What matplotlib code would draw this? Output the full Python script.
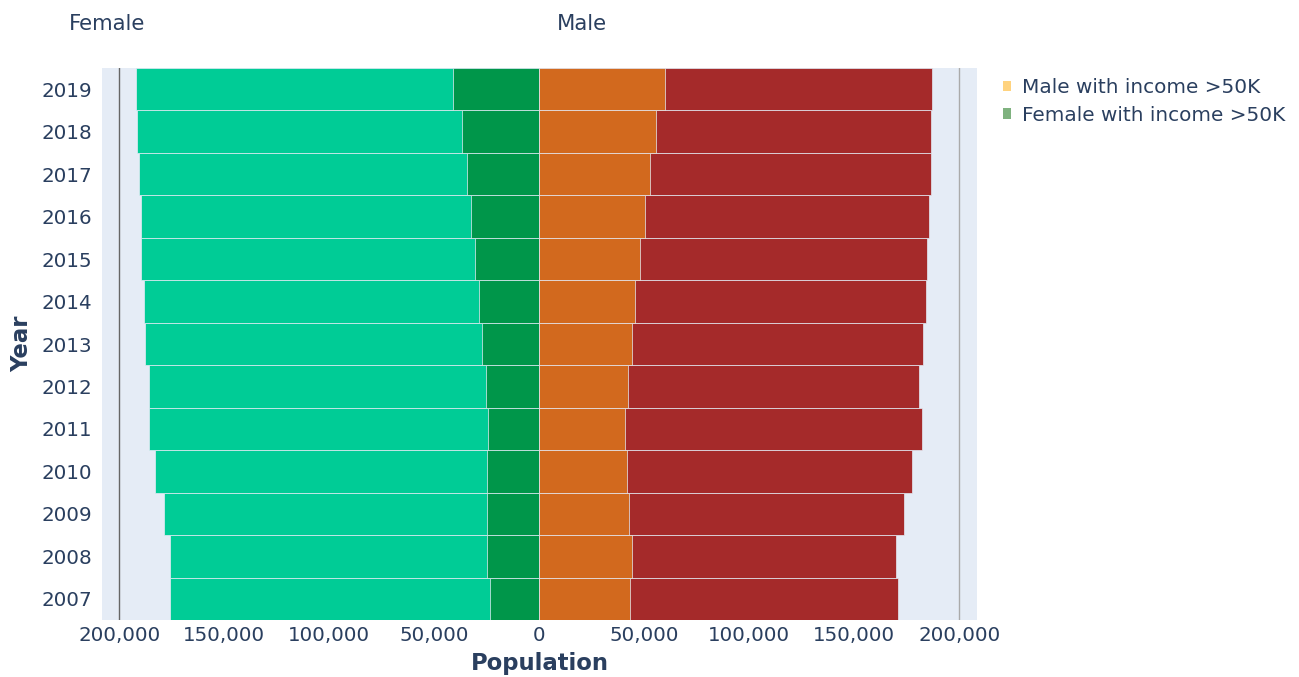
import matplotlib
matplotlib.use("Agg")
import matplotlib.pyplot as plt
from matplotlib.patches import Patch
from matplotlib.ticker import FuncFormatter

years = [2007, 2008, 2009, 2010, 2011, 2012, 2013, 2014, 2015, 2016, 2017, 2018, 2019]
female_total = [175700, 175700, 178600, 182900, 185700, 185700, 187600, 188100, 189500, 189700, 190500, 191400, 191900]
female_income = [23600, 25000, 25000, 25000, 24600, 25500, 27400, 28900, 30800, 32700, 34600, 36900, 41200]
male_total = [171100, 169700, 173500, 177300, 182100, 181000, 182900, 184000, 184500, 185400, 186400, 186400, 187200]
male_income = [43000, 44100, 42700, 41600, 40700, 42100, 44300, 45400, 47800, 50200, 52600, 55400, 59900]

x_ticks = [-200000, -150000, -100000, -50000, 0, 50000, 100000, 150000, 200000]

TEXT = "#2A3F5F"
BG = "#E5ECF6"
EDGE = "#E5ECF6"

plt.rcParams['font.family'] = ['DejaVu Sans']

fig = plt.figure(figsize=(12.99, 6.77), dpi=100)
ax = fig.add_axes([102/1299, 1 - 620/677, (977-102)/1299, (620-68)/677])
ax.set_facecolor(BG)

pos = list(range(len(years)))
neg_ft = [-v for v in female_total]
neg_fi = [-v for v in female_income]

ax.barh(pos, neg_ft, height=1.0, color="#00CC96", edgecolor=EDGE, linewidth=0.5)
ax.barh(pos, neg_fi, height=1.0, color="#00964A", edgecolor=EDGE, linewidth=0.5)
ax.barh(pos, male_total, height=1.0, color="#A52A2A", edgecolor=EDGE, linewidth=0.5)
ax.barh(pos, male_income, height=1.0, color="#D2691E", edgecolor=EDGE, linewidth=0.5)

ax.axvline(-200000, color="#666666", linewidth=1, zorder=0)
ax.axvline(200000, color="#AAAAAA", linewidth=1, zorder=0)

ax.set_xlim(-208300, 208500)
ax.set_ylim(-0.5, len(years) - 0.5)
ax.set_yticks(pos)
ax.set_yticklabels([str(y) for y in years])
ax.set_xticks(x_ticks)
ax.xaxis.set_major_formatter(FuncFormatter(lambda v, p: f"{abs(int(v)):,}"))
ax.tick_params(axis='both', length=0, labelsize=14.3, colors=TEXT)
ax.tick_params(axis='y', pad=7)
ax.tick_params(axis='x', pad=4)
for s in ax.spines.values():
    s.set_visible(False)

ax.set_xlabel("Population", fontsize=16.4, fontweight='bold', color=TEXT, labelpad=5.5)
ax.set_ylabel("Year", fontsize=16.4, fontweight='bold', color=TEXT, labelpad=6)

fig.text(107/1299, 1 - 24/677, "Female", ha='center', va='center', fontsize=15.3, color=TEXT)
fig.text(582/1299, 1 - 24/677, "Male", ha='center', va='center', fontsize=15.3, color=TEXT)

handles = [Patch(facecolor="#FFD37F", edgecolor='none', label="Male with income >50K"),
           Patch(facecolor="#7FB27F", edgecolor='none', label="Female with income >50K")]
leg = fig.legend(handles=handles, loc='upper left', bbox_to_anchor=(1003/1299, 1 - 78/677),
                 frameon=False, fontsize=14.4, handlelength=0.4, handleheight=0.4,
                 handletextpad=0.55, labelspacing=0.43, borderaxespad=0, borderpad=0)
for t in leg.get_texts():
    t.set_color(TEXT)

fig.savefig("out.png", dpi=100)
